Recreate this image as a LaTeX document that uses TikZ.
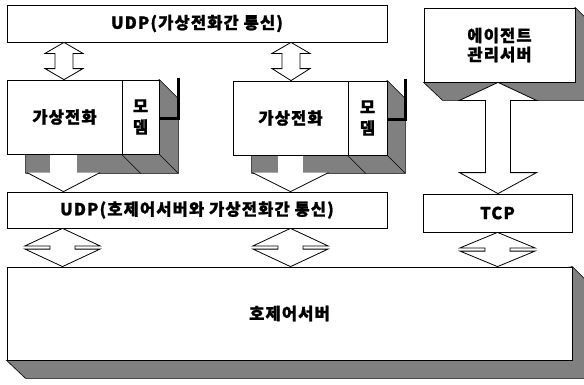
\documentclass[tikz,border=0pt]{standalone}
\usepackage{fontspec}
\setmainfont{Noto Sans CJK KR}
\newfontfamily\krfont{Noto Sans CJK KR}[LetterSpace=7, BoldFeatures={FakeBold=1.2}]
\usetikzlibrary{calc}
\pgfdeclarelayer{bg}
\pgfsetlayers{bg,main}
\tikzset{
  box/.style={draw, line width=0.8pt, fill=white, inner sep=0pt,
    font=\krfont\fontsize{16.5}{19}\selectfont\bfseries, align=center},
  modembox/.style={box, font=\krfont\fontsize{16.5}{21}\selectfont\bfseries},
  shadowfill/.style={fill=black!50, draw=black, line width=0.6pt, line join=miter},
  blockarrow/.style={draw, fill=white, line width=0.8pt, line join=miter},
  cable/.style={line width=3pt, line cap=butt, line join=miter},
}
% vertical double block arrow: #1 x centre, #2 upper anchor, #3 lower anchor,
% #4 head half width, #5 shaft half width, #6 upper head length, #7 lower head length
\newcommand\dblvarrow[7]{%
  \draw[blockarrow] let \p1=(#2), \p2=(#3) in
    (#1pt,\y1) -- (#1pt+#4pt,\y1-#6pt) -- (#1pt+#5pt,\y1-#6pt) --
    (#1pt+#5pt,\y2+#7pt) -- (#1pt+#4pt,\y2+#7pt) -- (#1pt,\y2) --
    (#1pt-#4pt,\y2+#7pt) -- (#1pt-#5pt,\y2+#7pt) -- (#1pt-#5pt,\y1-#6pt) --
    (#1pt-#4pt,\y1-#6pt) -- cycle;}
% downward arrow whose shaft runs through a shadow: #1 x centre, #2 from, #3 to,
% #4 head half width, #5 shaft half width, #6 head length
\newcommand\downV[6]{%
  \fill[white] let \p1=(#2), \p2=(#3) in
    (#1pt-#5pt,\y1-0.4pt) rectangle (#1pt+#5pt,\y2+#6pt);
  \filldraw[fill=white, line width=0.8pt] let \p2=(#3) in
    (#1pt-#4pt,\y2+#6pt) -- (#1pt,\y2) -- (#1pt+#4pt,\y2+#6pt);}
\begin{document}
\begin{tikzpicture}[x=1pt,y=-1pt]
\useasboundingbox (0,0) rectangle (584,384);

% boxes
\node[box, minimum width=380pt, minimum height=37pt] (udp1) at (197,23.5) {UDP(가상전화간 통신)};
\node[box, minimum width=151pt, minimum height=74pt] (agent) at (499.5,45) {에이전트\\관리서버};
\node[box, minimum width=115pt, minimum height=74pt] (phone1) at (64.5,117) {가상전화};
\node[modembox, minimum width=37pt, minimum height=74pt] (modem1) at (140.5,117) {모\\뎀};
\node[box, minimum width=115pt, minimum height=74pt] (phone2) at (290.5,118) {가상전화};
\node[modembox, minimum width=39pt, minimum height=74pt] (modem2) at (367.5,118) {모\\뎀};
\node[box, minimum width=380pt, minimum height=36pt] (udp2) at (197,210) {UDP(호제어서버와 가상전화간 통신)};
\node[box, minimum width=149pt, minimum height=38pt] (tcp) at (497.5,213) {TCP};
\node[box, minimum width=565pt, minimum height=93pt] (host) at (289.5,313.5) {호제어서버};

% 3D shadows
\begin{pgfonlayer}{bg}
\begin{scope}
\clip (0,0) rectangle (584,384);
\filldraw[shadowfill] (agent.north east) -- ++(19,19) -- ($(agent.south east)+(19,18)$)
  -- ($(agent.south west)+(19,18)$) -- (agent.south west) -- cycle;
\filldraw[shadowfill] (modem1.north east) -- ++(19,19) -- ($(modem1.south east)+(19,19)$)
  -- ($(phone1.south west)+(19,19)$) -- ($(phone1.south west)+(19,0)$) -- cycle;
\filldraw[shadowfill] (modem2.north east) -- ++(18,18) -- ($(modem2.south east)+(18,18)$)
  -- ($(phone2.south west)+(19,18)$) -- ($(phone2.south west)+(19,0)$) -- cycle;
\filldraw[shadowfill] (host.north east) -- ++(19,19) -- ($(host.south east)+(19,18)$)
  -- ($(host.south west)+(19,18)$) -- (host.south west) -- cycle;
\draw[line width=0.6pt] (modem1.south west) -- ++(19,19);
\draw[line width=0.6pt] (modem1.south east) -- ++(19,19);
\draw[line width=0.6pt] (modem2.south west) -- ++(18,18);
\draw[line width=0.6pt] (modem2.south east) -- ++(18,18);
\end{scope}
\end{pgfonlayer}

% modem cables
\draw[cable] ($(modem1.north east)+(19,-2)$) -- ($(modem1.east)+(19,1)$) -- ($(modem1.east)+(0,1)$);
\draw[cable] ($(modem2.north east)+(18,-2)$) -- ($(modem2.east)+(18,1)$) -- ($(modem2.east)+(0,1)$);

% connectors
\dblvarrow{64}{udp1.south}{phone1.north}{19}{9}{11}{11}
\dblvarrow{291}{udp1.south}{phone2.north}{19}{9}{11}{12}
\downV{63.5}{phone1.south}{udp2.north}{36.5}{13.5}{19}
\downV{290.5}{phone2.south}{udp2.north}{38}{12.5}{19}
\dblvarrow{62.5}{udp2.south}{host.north}{37.5}{12.5}{17.5}{17.5}
\dblvarrow{290.5}{udp2.south}{host.north}{37.5}{12.5}{17.5}{17.5}
\dblvarrow{497.5}{tcp.south}{host.north}{37.5}{12.5}{15.5}{15.5}
\dblvarrow{498}{agent.south}{tcp.north}{38.5}{12.5}{18}{21}
\end{tikzpicture}
\end{document}
